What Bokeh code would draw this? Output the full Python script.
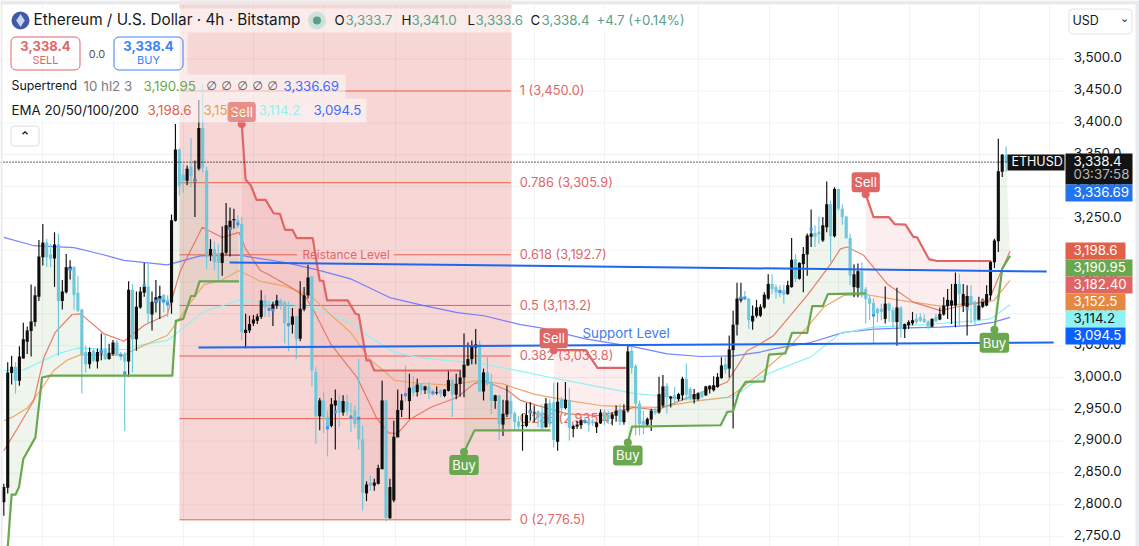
from bokeh.plotting import figure
from bokeh.models import Range1d, FixedTicker, Label, BoxAnnotation, Grid, NumeralTickFormatter, ColumnDataSource
from bokeh.core.properties import value
from bokeh.embed import file_html
from bokeh.resources import INLINE

opens = [2804,2827,3007,3017,2995,3030,3056,3073,3087,3127,
 3189,3212,3193,3187,3209,3120,3134,3169,3174,3133,
 3107,3040,3021,3042,3025,3038,3045,3029,3037,3055,
 3037,3037,3025,3138,3060,3110,3133,3143,3099,3118,
 3123,3130,3122,3118,3246,3358,3319,3309,3331,3309,
 3328,3392,3325,3192,3202,3195,3180,3196,3233,3247,
 3247,3241,3070,3074,3085,3089,3095,3121,3109,3107,
 3113,3121,3118,3085,3083,3096,3061,3107,3129,3159,
 3009,2939,2964,2938,2924,2956,2964,2945,2962,2948,
 2948,2937,2903,2818,2835,2830,2833,2856,2964,2779,
 2807,2906,2949,2974,2963,2986,2977,2989,2980,2986,
 2977,2976,2980,2971,2979,2996,2973,2990,3000,3019,
 3029,3047,3052,2978,3008,2993,2963,2972,2926,2942,
 2963,2944,2931,2924,2924,2945,2945,2947,2945,2922,
 2960,2961,2899,2965,2952,2964,2919,2923,2925,2933,
 2930,2930,2922,2928,2946,2941,2935,2940,2950,2930,
 2948,3042,3018,2959,2932,2926,2934,2948,2945,2956,
 2987,2967,2972,2966,2972,2998,2982,2966,2966,2978,
 2972,2982,2980,2985,2999,3021,3014,3043,3083,3121,
 3126,3124,3088,3097,3097,3110,3124,3147,3142,3138,
 3137,3131,3142,3186,3155,3178,3193,3221,3227,3229,
 3215,3236,3272,3222,3296,3265,3253,3219,3142,3141,
 3167,3139,3124,3117,3108,3108,3092,3116,3106,3087,
 3110,3076,3082,3085,3092,3095,3092,3088,3080,3095,
 3091,3099,3112,3113,3113,3147,3113,3111,3128,3119,
 3091,3111,3113,3129,3181,3214,3323,3350]
highs = [2833,3024,3034,3024,3049,3086,3080,3146,3143,3216,
 3241,3218,3210,3228,3226,3153,3194,3184,3174,3159,
 3108,3050,3047,3045,3045,3069,3067,3053,3059,3059,
 3040,3040,3151,3147,3135,3142,3180,3179,3135,3153,
 3144,3131,3129,3256,3398,3360,3335,3333,3376,3341,
 3436,3460,3331,3217,3214,3209,3237,3274,3267,3265,
 3255,3252,3100,3097,3098,3100,3137,3129,3120,3119,
 3130,3124,3121,3119,3109,3097,3151,3142,3177,3160,
 3016,2968,2977,2948,2968,2981,2973,2972,2973,2960,
 2956,3029,2925,2837,2846,2841,2863,2995,2965,2841,
 2932,2981,2974,3019,3006,3002,2998,2990,2987,2993,
 2981,2986,2982,2982,3012,2998,3006,3012,3069,3055,
 3058,3076,3058,3014,3034,3006,2973,2973,2965,2987,
 2973,2947,2940,2943,2960,2961,2956,2948,2958,2968,
 2966,2992,2992,2970,2993,2984,2926,2932,2934,2938,
 2934,2935,2930,2950,2950,2948,2945,2956,2958,2958,
 3049,3052,3021,2964,2948,2937,2951,2953,3001,3004,
 2991,2971,2985,2976,3001,3022,2985,2982,2977,2979,
 2987,2988,3002,3007,3032,3034,3066,3105,3149,3149,
 3136,3125,3113,3122,3115,3134,3162,3162,3146,3145,
 3146,3152,3219,3194,3181,3205,3226,3264,3239,3253,
 3252,3308,3278,3299,3297,3272,3254,3226,3178,3179,
 3181,3142,3130,3124,3110,3116,3143,3118,3110,3141,
 3112,3085,3090,3103,3100,3101,3099,3090,3093,3100,
 3110,3126,3139,3147,3165,3163,3147,3145,3145,3121,
 3127,3124,3145,3184,3218,3375,3351,3363]
lows = [2783,2818,2989,2975,2987,3030,3037,3033,3080,3120,
 3176,3174,3173,3142,3034,3107,3132,3154,3107,3103,
 2975,3008,3014,3024,3014,3027,3027,3028,3034,3034,
 3027,2916,3001,3008,3042,3108,3127,3084,3074,3102,
 3092,3102,3095,3100,3245,3286,3290,3302,3299,3252,
 3325,3322,3170,3183,3169,3150,3160,3193,3190,3234,
 3234,3058,3046,3070,3081,3084,3092,3095,3095,3081,
 3108,3106,3054,3041,3069,3029,3057,3104,3124,2986,
 2896,2917,2913,2876,2922,2887,2922,2940,2940,2914,
 2920,2887,2791,2806,2822,2822,2832,2856,2774,2778,
 2804,2906,2938,2962,2935,2970,2970,2973,2974,2966,
 2972,2973,2969,2969,2978,2938,2966,2970,2969,3018,
 3021,3021,2977,2964,2987,2943,2951,2902,2908,2938,
 2935,2917,2919,2885,2922,2932,2930,2922,2917,2921,
 2922,2890,2885,2945,2950,2901,2906,2919,2919,2927,
 2915,2924,2913,2927,2925,2927,2925,2931,2925,2926,
 2945,3006,2909,2909,2911,2923,2916,2941,2943,2953,
 2943,2953,2958,2963,2964,2964,2964,2959,2964,2968,
 2971,2975,2978,2984,2998,3006,3000,2920,3066,3118,
 3121,3076,3075,3094,3095,3108,3122,3131,3124,3126,
 3116,3130,3141,3150,3154,3134,3160,3205,3205,3210,
 3213,3228,3181,3220,3262,3240,3218,3145,3126,3126,
 3125,3085,3090,3053,3087,3090,3085,3087,3076,3050,
 3063,3062,3076,3082,3084,3087,3086,3076,3079,3087,
 3090,3097,3092,3084,3079,3082,3103,3066,3085,3083,
 3090,3109,3112,3121,3172,3197,3315,3323]
closes = [2828,3008,3017,2995,3033,3060,3074,3088,3129,3190,
 3212,3189,3187,3209,3120,3135,3173,3174,3130,3105,
 3037,3021,3040,3026,3040,3043,3029,3039,3055,3035,
 3034,3025,3138,3060,3111,3135,3143,3100,3119,3126,
 3128,3118,3113,3247,3358,3301,3309,3328,3317,3311,
 3392,3330,3192,3202,3181,3180,3196,3239,3246,3249,
 3241,3071,3075,3084,3091,3096,3121,3110,3107,3115,
 3121,3113,3085,3082,3096,3060,3108,3129,3157,3011,
 2939,2964,2938,2919,2958,2964,2945,2963,2947,2947,
 2927,2903,2819,2832,2830,2835,2858,2964,2780,2828,
 2907,2949,2964,2972,2984,2976,2989,2980,2986,2975,
 2975,2977,2974,2981,2996,2973,2990,3000,3020,3029,
 3048,3052,2978,3008,2990,2963,2972,2927,2943,2964,
 2943,2930,2923,2925,2941,2948,2946,2937,2921,2959,
 2927,2902,2962,2952,2965,2921,2924,2926,2933,2930,
 2926,2928,2929,2945,2933,2935,2942,2948,2930,2948,
 3041,3015,2959,2927,2926,2935,2948,2944,2974,2986,
 2969,2970,2966,2974,2998,2973,2967,2974,2975,2969,
 2986,2987,2988,3001,3019,3012,3044,3083,3124,3126,
 3124,3090,3097,3110,3111,3130,3147,3139,3134,3132,
 3130,3145,3185,3155,3180,3194,3223,3226,3221,3225,
 3239,3272,3222,3296,3265,3252,3219,3160,3162,3167,
 3131,3123,3116,3101,3101,3103,3116,3105,3087,3110,
 3076,3084,3087,3090,3087,3089,3087,3080,3092,3088,
 3100,3113,3122,3121,3147,3131,3131,3128,3116,3090,
 3113,3121,3131,3182,3215,3324,3350,3338.4]

doji_idx = [17,25,30,31,36,39,40,41,42,49,58,60,68,69,73,83,85,89,91,103,110,135,149,189,190,199,207,223,247,251]
doji_val = [3170,3041,3035,3007,3145,3120,3122,3120,3116,3309,3234,3241,3107,3106,3083,2921,2946,2938,2936,2973,2976,2946,2931,3125,3125,3135,3233,3098,3108,3121]

ema200_x = [0,7.7,18,24.8,30.8,41.9,50.4,60.7,63.3,71.8,80.4,88.9,99.2,107.7,116.3,123.1,132.5,137.7,148.8,161.6,170.1,178.7,187.2,194,197.4,206.8,215.4,223.1,231.6,240.2,248.7,253.9,258]
ema200_y = [3220,3207,3204,3194,3184,3177,3191,3192,3189,3181,3169,3155,3125,3113,3102,3097,3083,3078,3061,3048,3037,3033,3034,3040,3045,3055,3071,3076,3078,3079,3082,3087,3094.5]
ema100_x = [0,5.1,10.3,13.7,18.8,30.8,36,41.9,45.3,51.3,55.6,60.3,65.8,71.8,80.4,88.9,93.2,97.4,100,106,114.5,123,132.5,140.2,153,161.6,168.4,178.7,187,194,198.3,206.8,214.5,223,235.9,248.7,253,258]
ema100_y = [3011,3012,3027,3037,3046,3044,3052,3058,3074,3104,3112,3122,3118,3117,3108,3087,3066,3050,3040,3032,3026,3021,3010,3000,2985,2975,2971,2964,2969,3000,3012,3032,3069,3079,3083,3089,3092,3114.2]
ema50_x = [0,2.6,6,9.4,12.8,16.2,19.7,30.8,33.3,37.6,41.9,44.4,47.9,51.3,55.6,60.3,65.8,71.8,78.6,83,88.9,94,97.4,100,106,114.5,121.4,128,135.9,144.5,153,161.6,167.6,178.7,185.5,187.2,194.9,200,206,210.3,215.4,221.4,229.9,240.2,247,252,253.9,258]
ema50_y = [2932,2939,2952,2980,3011,3027,3036,3035,3043,3055,3066,3087,3118,3146,3152,3168,3151,3144,3129,3103,3071,3027,3011,2996,2991,2988,2995,2990,2974,2964,2956,2954,2953,2964,2969,2974,3011,3038,3079,3111,3129,3130,3121,3112,3116,3118,3121,3152.5]
ema20_x = [0,2.6,7.7,10.3,13.2,17.5,19.7,25.6,30.8,36,41.9,45.3,50.9,56,60.3,62,65.8,67.5,73.5,77.4,79.5,83.8,90.6,95.7,98.7,100.9,104.3,109.4,116.3,120.5,123.1,129.1,132.5,138.5,144.5,153,161.6,167.6,173.6,180.4,185.5,190.6,194,197.4,206,212,214.5,216.2,220.5,226.5,233.3,240.2,243.6,248.7,252.6,254.7,258]
ema20_y = [2885,2911,2964,3032,3071,3099,3100,3069,3057,3082,3099,3168,3236,3220,3228,3202,3168,3163,3142,3126,3105,3053,3000,2935,2913,2912,2935,2953,2969,2990,2995,2980,2964,2953,2943,2940,2953,2949,2964,2980,2993,3042,3053,3066,3129,3178,3202,3205,3192,3147,3118,3105,3110,3116,3121,3152,3198.6]

green1_x = [1,2,3,3.9,5,8.1,9.8,12,43.2,44.1,46,48,49,50.2,60.3]
green1_y = [2733,2816,2816,2828,2872,2906,3000,3003,3003,3089,3092,3128,3128,3151,3151]
red1_x = [61,62,63.3,64.8,67.1,69.2,70.8,72.1,74,75.1,79.2,81,81.9,82.9,88.2,90.2,91,93,93.9,95,117]
red1_y = [3398,3311,3302,3279,3279,3258,3257,3232,3232,3219,3219,3152,3152,3121,3121,3100,3099,3027,3027,3011,3011]
green2_x = [118,120.7,140.2]
green2_y = [2883,2917,2917]
red2_x = [141,149.2,152.2,159.5]
red2_y = [3043,3043,3015,3015]
green3_x = [160,161.1,183.8,185.5,187,188.5,190.2,195,196.2,200.4,202.1,206,207.3,210,211.3,221]
green3_y = [2898,2923,2925,2946,2947,2977,2993,2994,3036,3038,3070,3070,3112,3112,3131,3132]
red3_x = [221,223,226.9,228.4,231.2,233.2,234.2,237.2,239.3,253]
red3_y = [3288,3252,3252,3241,3240,3221,3220,3186,3183,3183]
green4_x = [254,256,258]
green4_y = [3075,3171,3190.95]

fib_levels = ["1 (3,450.0)","0.786 (3,305.9)","0.618 (3,192.7)","0.5 (3,113.2)","0.382 (3,033.8)","0.236 (2,935.4)","0 (2,776.5)"]
fib_prices = [3450.0,3305.9,3192.7,3113.2,3033.8,2935.4,2776.5]

sell_x = [61,141,221]
sell_y = [3398,3043,3288]
buy_x = [118,160,254]
buy_y = [2883,2898,3075]

resist_x = [57.9,267.4]
resist_y = [3180.6,3166.5]
support_x = [49.9,269.2]
support_y = [3047.1,3055]

price_ticks = [2750,2800,2850,2900,2950,3000,3050,3100,3150,3200,3250,3300,3350,3400,3450,3500]
grid_x = [9.9,28.1,46.1,64,82,100.4,118.4,136.1,154,178.1,196.3,214,232.2,250.2,268.1]
last_price = 3338.4

W, H = 1139, 546
FONT = "Inter"
XL, XAX, XR = -0.85, 271.8, 291.2
p = figure(width=W, height=H, output_backend="svg", toolbar_location=None,
           x_range=Range1d(XL, XR), y_range=Range1d(2734.6, 3592.1),
           min_border_left=0, min_border_top=0, min_border_bottom=0, min_border_right=0,
           y_axis_location="right")
p.extra_y_ranges = {"labels": Range1d(2731.9, 3589.4)}
p.xaxis.visible = False
p.outline_line_color = None
p.xgrid.visible = False
p.ygrid.visible = False
ax = p.yaxis[0]
ax.y_range_name = "labels"
ax.fixed_location = XAX
ax.ticker = FixedTicker(ticks=price_ticks)
ax.formatter = NumeralTickFormatter(format="0,0.0")
ax.axis_line_color = None
ax.major_tick_line_color = None
ax.minor_tick_line_color = None
ax.major_tick_in = 0
ax.major_tick_out = 0
ax.major_label_standoff = 10
ax.major_label_text_font = FONT
ax.major_label_text_font_size = "13.3px"
ax.major_label_text_color = "#131722"
p.segment([XL]*len(price_ticks), price_ticks, [XAX]*len(price_ticks), price_ticks, line_color="#f0f2f5", line_width=1, level="underlay")
p.add_layout(Grid(dimension=0, ticker=FixedTicker(ticks=grid_x), grid_line_color="#f0f2f5"))

RED = "#e06666"
# fibonacci block
p.quad(left=[45.05], right=[130.2], bottom=[fib_prices[-1]], top=[3600], fill_color=RED, fill_alpha=0.27, line_color=None)
for lv, pr in zip(fib_levels, fib_prices):
    if lv.startswith("0.618"):
        p.segment([45.05,100.0], [pr,pr], [75.2,130.0], [pr,pr], line_color="#e8604e", line_width=1)
    else:
        p.segment([45.05], [pr], [130.0], [pr], line_color="#e8604e", line_width=1)
p.text(x=[132.3]*len(fib_levels), y=fib_prices, text=fib_levels, text_font=value(FONT), text_font_size="12.8px",
       text_color=RED, text_baseline="middle", text_align="left")

# supertrend fills between the line and the mid body
mid = [(o+c)/2 for o, c in zip(opens, closes)]
def fill(xs, ys, a, b, col):
    idx = list(range(a, b+1))
    p.patch(list(xs)+idx[::-1], list(ys)+[mid[i] for i in idx[::-1]], fill_color=col, fill_alpha=0.11, line_color=None)
GREEN = "#6aa84f"
fill(green1_x, green1_y, 1, 60, GREEN)
fill(red1_x, red1_y, 61, 117, RED)
fill(green2_x, green2_y, 118, 140, GREEN)
fill(red2_x, red2_y, 141, 159, RED)
fill(green3_x, green3_y, 160, 220, GREEN)
fill(red3_x, red3_y, 221, 253, RED)
fill(green4_x, green4_y, 254, 257, GREEN)

# emas
p.line(ema200_x, ema200_y, line_color="#5f6dff", line_width=1.2, line_alpha=0.85)
p.line(ema100_x, ema100_y, line_color="#8ef2f2", line_width=1.2)
p.line(ema50_x, ema50_y, line_color="#eea768", line_width=1.2)
p.line(ema20_x, ema20_y, line_color="#e2705f", line_width=1.2, line_alpha=0.9)

# candles
n = len(closes)
idx = list(range(n))
BLK, BLU = "#0e0e0e", "#6fc7dc"
colors = [BLK if closes[i] >= opens[i] else BLU for i in idx]
src = ColumnDataSource(dict(x=idx, o=opens, h=highs, l=lows, c=closes, col=colors,
                            top=[max(a, b) for a, b in zip(opens, closes)],
                            bot=[min(a, b) for a, b in zip(opens, closes)]))
p.segment("x", "h", "x", "l", source=src, line_color="col", line_width=1.15)
p.vbar("x", 0.8, "bot", "top", source=src, fill_color="col", line_color=None)
p.scatter(doji_idx, doji_val, marker="square", size=3, fill_color="#4a90e2", line_color=None)

# supertrend lines
for xs, ys, col in [(green1_x, green1_y, GREEN), (red1_x, red1_y, RED), (green2_x, green2_y, GREEN),
                    (red2_x, red2_y, RED), (green3_x, green3_y, GREEN), (red3_x, red3_y, RED), (green4_x, green4_y, GREEN)]:
    p.line(xs, ys, line_color=col, line_width=2.2, line_join="round")

# level lines
p.line(resist_x, resist_y, line_color="#1f66ee", line_width=2)
p.line(support_x, support_y, line_color="#1f66ee", line_width=2)

# last price line
p.segment([XL], [last_price], [258], [last_price], line_color="#000000", line_width=1.3, line_dash="1 2")

p.scatter(sell_x, sell_y, size=8, fill_color=RED, line_color=None)
p.scatter(buy_x, buy_y, size=8, fill_color=GREEN, line_color=None)

def sx(x): return x
def sy(y): return H - y

def T(text, x, y, color="#131722", size=13.3, weight="normal", align="left", font=FONT):
    p.add_layout(Label(x=sx(x), y=sy(y - 0.7), x_units="screen", y_units="screen", text=text, text_color=color,
                       text_font=font, text_font_size=f"{size}px", text_font_style=weight,
                       text_align=align, text_baseline="middle", level="overlay"))

def B(x0, y0, x1, y1, fill=None, alpha=1.0, line=None, radius=0):
    p.add_layout(BoxAnnotation(left=sx(x0), right=sx(x1), top=sy(y0), bottom=sy(y1),
                               left_units="screen", right_units="screen", top_units="screen", bottom_units="screen",
                               fill_color=fill, fill_alpha=alpha if fill else 0,
                               line_color=line, line_alpha=1 if line else 0, line_width=1, border_radius=radius))

def badge(x, y, text, col, off, alpha=1.0):
    p.add_layout(Label(x=x, y=y, y_offset=off, text=text, text_color="white", text_font=FONT, text_font_size="13px",
                       text_align="center", text_baseline="middle", background_fill_color=col,
                       background_fill_alpha=alpha, padding=(3, 2), border_radius=3))

T("Reistance Level", 302, 255, RED, 11.8)
T("Support Level", 582, 333, "#3d7df0")

# window frame
GREY = "#e9eaec"
B(0, 0, 2, 546, GREY)
B(0, 0, 1139, 4, GREY)
B(1135, 0, 1139, 546, GREY)

# legend backdrops
B(2, 8, 680, 32, "white", 0.55)
B(2, 32, 187, 74, "white", 0.55)
B(2, 74, 345, 98, "white", 0.55)
B(2, 98, 366, 122, "white", 0.55)

# badges
for i, (x, y) in enumerate(zip(sell_x, sell_y)):
    badge(x, y, "Sell", RED, 12, 0.7 if i == 0 else 1.0)
for x, y in zip(buy_x, buy_y):
    badge(x, y, "Buy", GREEN, -13)

# header
p.scatter([4.28], [3560.7], marker="circle", size=18, fill_color="#3f5aa6", line_color=None, level="overlay")
p.scatter([4.28], [3560.7], marker="diamond", size=13, fill_color="#c9d6f2", line_color=None, level="overlay")
T("Ethereum / U.S. Dollar · 4h · Bitstamp", 33, 20, size=15.3)
p.scatter([80.3], [3560.7], marker="circle", size=18, fill_color="#cfe0da", line_color=None, level="overlay")
p.scatter([80.3], [3560.7], marker="circle", size=8, fill_color="#5a9f88", line_color=None, level="overlay")
OH = "#5aa08c"
for k, kx, v, vx in [("O",334,"3,333.7",345),("H",401,"3,341.0",411),("L",467,"3,333.6",475),("C",530,"3,338.4",541)]:
    T(k, kx, 20)
    T(v, vx, 20, OH)
T("+4.7 (+0.14%)", 596, 20, OH)

B(10.5, 36.5, 79.5, 69.5, None, line=RED, radius=5)
T("3,338.4", 45, 46, RED, 13, "bold", "center")
T("SELL", 45, 60, RED, 11, align="center")
T("0.0", 96.5, 54, "#555555", 11, align="center")
B(113.5, 36.5, 182.5, 69.5, None, line="#3b82f6", radius=5)
T("3,338.4", 148, 46, "#3b82f6", 13, "bold", "center")
T("BUY", 148, 60, "#3b82f6", 11, align="center")

T("Supertrend", 11, 86, size=12.4)
T("10 hl2 3", 83, 86, "#787b86")
T("3,190.95", 143, 86, GREEN)
for x in [211, 226, 242, 257, 272]:
    T("∅", x, 86, "#555555", 12, align="center", font="DejaVu Sans")
T("3,336.69", 283, 86, "#3d6bff")
T("EMA 20/50/100/200", 11, 110)
T("3,198.6", 147, 110, "#e0604a")
T("3,152.5", 203, 110, "#ee9a4d")
T("3,114.2", 258, 110, "#8ef2f2")
T("3,094.5", 313, 110, "#3d6bff")
B(10.5, 125.5, 38.5, 145.5, "white", 1, "#d9dbe0", 3)
T("⌃", 24.5, 137, "#131722", 13, "bold", "center", "DejaVu Sans")

# currency selector
B(1068.5, 8.5, 1131.5, 33.5, "white", 1, "#e2e4e8", 4)
T("USD", 1072, 21, "#131722", 12.5)
T("⌄", 1124, 19, "#131722", 11, align="center", font="DejaVu Sans")

# price tags
B(1007, 154, 1064, 170, "#131313", 1)
T("ETHUSD", 1011, 162, "white", 12.5)
B(1065, 153, 1132, 184, "#131313", 1)
T("3,338.4", 1073, 161, "white")
T("03:37:58", 1073, 174, "#b8b8b8")
for text, y, right, bg, fg in [("3,336.69", 184, 1132, "#2273f0", "white"), ("3,198.6", 242, 1125, "#e0604a", "white"),
                                ("3,190.95", 259, 1132, GREEN, "white"), ("3,182.40", 276, 1132, RED, "white"),
                                ("3,152.5", 293, 1125, "#e6883f", "white"), ("3,114.2", 310, 1125, "#8ef2f2", "#131722"),
                                ("3,094.5", 327, 1125, "#0b5fff", "white")]:
    B(1065, y, right, y + 17, bg, 1)
    T(text, 1073, y + 8.5, fg)

open("out.html", "w").write(file_html(p, INLINE))
